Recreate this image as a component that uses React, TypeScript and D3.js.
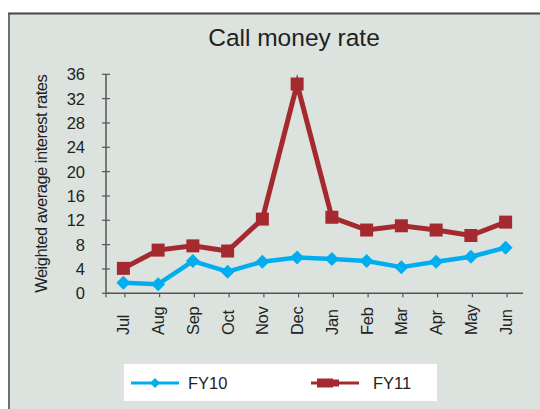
import React from "react";
import * as d3 from "d3";

const months = ["Jul", "Aug", "Sep", "Oct", "Nov", "Dec", "Jan", "Feb", "Mar", "Apr", "May", "Jun"];
const fy10 = [1.75, 1.5, 5.3, 3.55, 5.2, 5.9, 5.65, 5.3, 4.3, 5.2, 6.0, 7.5];
const fy11 = [4.1, 7.1, 7.8, 6.95, 12.2, 34.4, 12.5, 10.4, 11.1, 10.4, 9.5, 11.7];
const yTicks = [0, 4, 8, 12, 16, 20, 24, 28, 32, 36];

const BLUE = "#00aeef";
const RED = "#a52a30";
const FONT = "Liberation Sans, Arial, sans-serif";

export default function App() {
  const width = 540;
  const height = 409;

  const x = d3.scalePoint<string>().domain(months).range([106, 523]).padding(0.5);
  const y = d3.scaleLinear().domain([0, 36]).range([293.3, 74.3]);

  const line = d3.line<number>()
    .x((_, i) => x(months[i]) as number)
    .y(d => y(d));

  const diamond = (cx: number, cy: number, r: number) =>
    `M${cx},${cy - r}L${cx + r},${cy}L${cx},${cy + r}L${cx - r},${cy}Z`;

  const [x0, x1] = x.range();
  const [y0, y1] = y.range();

  return (
    <div style={{ position: "absolute", left: 0, top: 0 }}>
      <svg width={width} height={height} style={{ display: "block", fontFamily: FONT }}>
        <rect x={0} y={0} width={width} height={height} fill="#fff" />
        {/* panel */}
        <rect x={9} y={13.5} width={560} height={420} fill="#dce3df" stroke="#707070" strokeWidth={2} />
        <line x1={8} x2={width} y1={13.5} y2={13.5} stroke="#4a4a4a" strokeWidth={1.5} />

        <text x={294} y={46} textAnchor="middle" fontSize={24.5} fill="#222">Call money rate</text>

        <text
          transform={`translate(46.5,${(y0 + y1) / 2}) rotate(-90)`}
          textAnchor="middle"
          fontSize={16.5}
          letterSpacing={-0.5}
          fill="#222"
        >
          Weighted average interest rates
        </text>

        {/* y axis */}
        <line x1={x0} x2={x0} y1={y1} y2={y0} stroke="#555" strokeWidth={1.5} />
        {yTicks.map(t => (
          <g key={t}>
            <line x1={x0 - 4} x2={x0 + 4} y1={y(t)} y2={y(t)} stroke="#555" strokeWidth={1.2} />
            <text x={85} y={y(t)} dy="0.36em" textAnchor="end" fontSize={16.5} fill="#222">{t}</text>
          </g>
        ))}

        {/* x axis */}
        <line x1={x0} x2={x1} y1={y0} y2={y0} stroke="#555" strokeWidth={1.5} />
        <line x1={x0} x2={x0} y1={y0} y2={y0 + 4} stroke="#555" strokeWidth={1.2} />
        {months.map(m => (
          <g key={m}>
            <line x1={(x(m) as number) + 1.5} x2={(x(m) as number) + 1.5} y1={y0} y2={y0 + 4} stroke="#555" strokeWidth={1.2} />
            <text
              transform={`translate(${x(m)},335) rotate(-90)`}
              dy="0.36em"
              textAnchor="start"
              fontSize={16.5}
              letterSpacing={-0.3}
              fill="#222"
            >
              {m}
            </text>
          </g>
        ))}

        {/* FY10 */}
        <path d={line(fy10) as string} fill="none" stroke={BLUE} strokeWidth={4.5} strokeLinejoin="round" />
        {fy10.map((v, i) => (
          <path key={i} d={diamond(x(months[i]) as number, y(v), 7)} fill={BLUE} />
        ))}

        {/* FY11 */}
        <path d={line(fy11) as string} fill="none" stroke={RED} strokeWidth={5} strokeLinejoin="miter" />
        {fy11.map((v, i) => (
          <rect key={i} x={(x(months[i]) as number) - 6.5} y={y(v) - 6.5} width={13} height={13} fill={RED} />
        ))}

        {/* legend */}
        <rect x={124} y={364} width={313} height={37} fill="#fff" />
        <line x1={131} x2={179} y1={383} y2={383} stroke={BLUE} strokeWidth={3} />
        <path d={diamond(155, 383, 5)} fill={BLUE} />
        <text x={188} y={389} fontSize={16.5} fill="#222">FY10</text>
        <line x1={311} x2={359} y1={383} y2={383} stroke={RED} strokeWidth={3} />
        <rect x={317} y={378.5} width={16} height={9} fill={RED} />
        <rect x={332} y={379.5} width={7} height={7} fill={RED} />
        <text x={373} y={389} fontSize={16.5} fill="#222">FY11</text>
      </svg>
    </div>
  );
}
